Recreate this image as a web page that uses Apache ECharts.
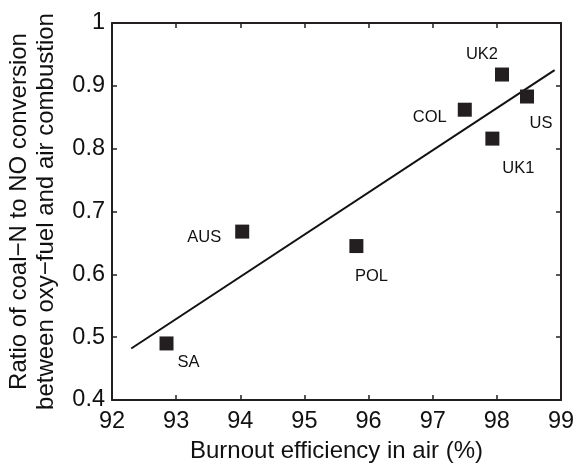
<!DOCTYPE html>
<html>
<head>
<meta charset="utf-8">
<script src="https://cdn.jsdelivr.net/npm/echarts@6/dist/echarts.min.js"></script>
<style>html,body{margin:0;padding:0;background:#fff}#c{width:577px;height:463px}</style>
</head>
<body>
<div id="c"></div>
<script>
const sites = ['SA', 'AUS', 'POL', 'COL', 'UK1', 'UK2', 'US'];
const burnout = [92.85, 94.03, 95.81, 97.50, 97.93, 98.08, 98.47];
const ratio = [0.490, 0.668, 0.645, 0.862, 0.816, 0.918, 0.883];
const fitX = [92.3, 98.9];
const fitY = [0.482, 0.925];
const xTicks = [92, 93, 94, 95, 96, 97, 98, 99];
const yTicks = [0.4, 0.5, 0.6, 0.7, 0.8, 0.9, 1];

const labelOffsets = {SA:[22,19], AUS:[-38,6], POL:[15,30], COL:[-35,8], UK1:[26,30], UK2:[-20,-20], US:[14,27]};
const ink = '#231f20';
const font = 'Liberation Sans, Arial, Helvetica, sans-serif';

const chart = echarts.init(document.getElementById('c'), null, {renderer:'canvas'});
const axisCommon = {
  axisLine:{show:true, onZero:false, lineStyle:{color:ink, width:2}},
  axisTick:{show:true, inside:true, length:5, lineStyle:{color:ink, width:1.5}},
  splitLine:{show:false}
};
chart.setOption({
  animation:false,
  backgroundColor:'#fff',
  grid:{left:112, right:16, top:23, bottom:63, containLabel:false, outerBoundsMode:'none'},
  xAxis:[
    Object.assign({type:'value', min:xTicks[0], max:xTicks[xTicks.length-1], interval:1, position:'bottom',
      name:'Burnout efficiency in air (%)', nameLocation:'middle', nameGap:38,
      nameTextStyle:{fontFamily:font, fontSize:24, color:'#111'},
      axisLabel:{margin:10, fontFamily:font, fontSize:23.5, color:'#111'}}, axisCommon),
    Object.assign({type:'value', min:xTicks[0], max:xTicks[xTicks.length-1], interval:1, position:'top',
      axisLabel:{show:false}}, axisCommon)
  ],
  yAxis:[
    Object.assign({type:'value', min:yTicks[0], max:yTicks[yTicks.length-1], interval:0.1, position:'left',
      name:'Ratio of coal\u2212N to NO conversion\nbetween oxy\u2212fuel and air combustion',
      nameLocation:'middle', nameGap:52,
      nameTextStyle:{fontFamily:font, fontSize:24, color:'#111', lineHeight:27},
      axisLabel:{margin:7, fontFamily:font, fontSize:23.5, color:'#111',
        formatter:v => (Math.abs(v-1)<1e-9 ? '1' : v.toFixed(1))}}, axisCommon),
    Object.assign({type:'value', min:yTicks[0], max:yTicks[yTicks.length-1], interval:0.1, position:'right',
      axisLabel:{show:false}}, axisCommon)
  ],
  series:[
    {
      type:'line', data:fitX.map((x,i)=>[x, fitY[i]]), symbol:'none',
      lineStyle:{color:'#111', width:2}, z:2, silent:true
    },
    {
      type:'scatter', symbol:'rect', symbolSize:14, z:3,
      itemStyle:{color:ink, opacity:1},
      data:sites.map((s,i)=>({
        value:[burnout[i], ratio[i]], name:s,
        label:{show:true, formatter:s, position:'inside', offset:labelOffsets[s],
          color:'#111', fontFamily:font, fontSize:16.5, align:'center', verticalAlign:'middle'}
      }))
    }
  ]
});
</script>
</body>
</html>
